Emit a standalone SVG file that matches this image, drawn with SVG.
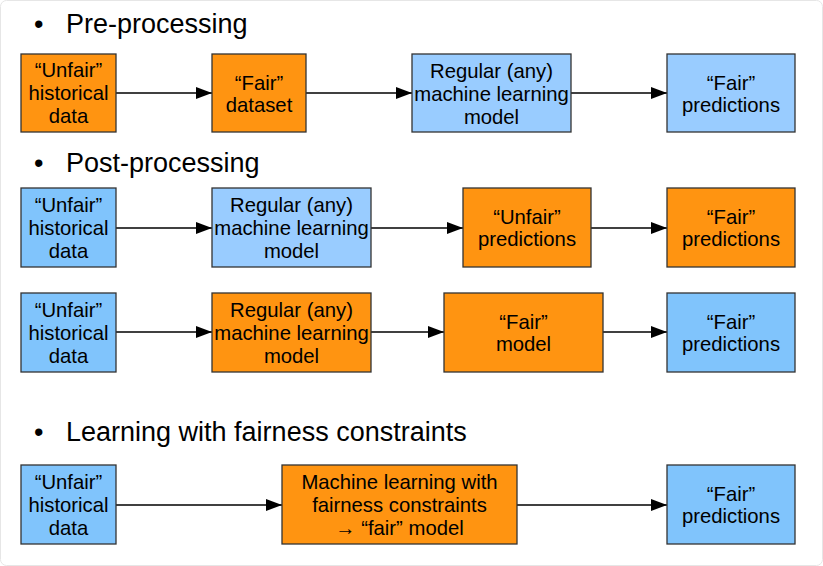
<svg xmlns="http://www.w3.org/2000/svg" width="823" height="566" viewBox="0 0 823 566">
<style>
.o{fill:#FF9411;stroke:#333;stroke-width:1.3}
.b{fill:#80C4FC;stroke:#333;stroke-width:1.3}
.l{fill:#99CCFF;stroke:#333;stroke-width:1.3}
text{font-family:"Liberation Sans",Arial,sans-serif;fill:#000}
.t{font-size:20.3px;text-anchor:middle}
.h{font-size:27px}
.c line{stroke:#000;stroke-width:1.5;marker-end:url(#ah)}
</style>
<defs>
<marker id="ah" markerWidth="16" markerHeight="12" refX="16" refY="6" orient="auto" markerUnits="userSpaceOnUse">
<path d="M0,0 L16,6 L0,12 Z" fill="#000"/>
</marker>
</defs>
<rect x="0.5" y="0.5" width="822" height="565" rx="6" fill="#fff" stroke="#e6e6e6"/>
<g id="headings">
<text class="h" x="34" y="33">•</text><text class="h" x="66" y="33">Pre-processing</text>
<text class="h" x="34" y="172">•</text><text class="h" x="66" y="172">Post-processing</text>
<text class="h" x="34" y="441">•</text><text class="h" x="66" y="441">Learning with fairness constraints</text>
</g>
<g class="c" id="connectors">
<line x1="116" y1="93" x2="212" y2="93"/>
<line x1="306" y1="93" x2="412" y2="93"/>
<line x1="571" y1="93" x2="667" y2="93"/>
<line x1="116" y1="228" x2="212" y2="228"/>
<line x1="371" y1="228" x2="463" y2="228"/>
<line x1="591" y1="228" x2="667" y2="228"/>
<line x1="116" y1="332" x2="212" y2="332"/>
<line x1="371" y1="332" x2="444" y2="332"/>
<line x1="603" y1="332" x2="667" y2="332"/>
<line x1="116" y1="505" x2="282" y2="505"/>
<line x1="517" y1="505" x2="667" y2="505"/>
</g>
<g id="r1a"><rect class="o" x="21" y="54" width="95" height="78"/><text class="t" x="68.5" y="77">“Unfair”</text><text class="t" x="68.5" y="100">historical</text><text class="t" x="68.5" y="122.5">data</text></g>
<g id="r1b"><rect class="o" x="212" y="54" width="94" height="78"/><text class="t" x="259" y="90">“Fair”</text><text class="t" x="259" y="112">dataset</text></g>
<g id="r1c"><rect class="l" x="412" y="54" width="159" height="78"/><text class="t" x="491.5" y="78">Regular (any)</text><text class="t" x="491.5" y="101">machine learning</text><text class="t" x="491.5" y="123.5">model</text></g>
<g id="r1d"><rect class="l" x="667" y="54" width="128" height="78"/><text class="t" x="731" y="90">“Fair”</text><text class="t" x="731" y="112">predictions</text></g>

<g id="r2a"><rect class="b" x="21" y="188" width="95" height="79"/><text class="t" x="68.5" y="212">“Unfair”</text><text class="t" x="68.5" y="235">historical</text><text class="t" x="68.5" y="257.5">data</text></g>
<g id="r2b"><rect class="l" x="212" y="188" width="159" height="79"/><text class="t" x="291.5" y="212">Regular (any)</text><text class="t" x="291.5" y="235">machine learning</text><text class="t" x="291.5" y="257.5">model</text></g>
<g id="r2c"><rect class="o" x="463" y="188" width="128" height="79"/><text class="t" x="527" y="224">“Unfair”</text><text class="t" x="527" y="246">predictions</text></g>
<g id="r2d"><rect class="o" x="667" y="188" width="128" height="79"/><text class="t" x="731" y="224">“Fair”</text><text class="t" x="731" y="246">predictions</text></g>

<g id="r3a"><rect class="b" x="21" y="293" width="95" height="79"/><text class="t" x="68.5" y="317">“Unfair”</text><text class="t" x="68.5" y="340">historical</text><text class="t" x="68.5" y="362.5">data</text></g>
<g id="r3b"><rect class="o" x="212" y="293" width="159" height="79"/><text class="t" x="291.5" y="317">Regular (any)</text><text class="t" x="291.5" y="340">machine learning</text><text class="t" x="291.5" y="362.5">model</text></g>
<g id="r3c"><rect class="o" x="444" y="293" width="159" height="79"/><text class="t" x="523.5" y="329">“Fair”</text><text class="t" x="523.5" y="351">model</text></g>
<g id="r3d"><rect class="b" x="667" y="293" width="128" height="79"/><text class="t" x="731" y="329">“Fair”</text><text class="t" x="731" y="351">predictions</text></g>

<g id="r4a"><rect class="b" x="21" y="465" width="95" height="79"/><text class="t" x="68.5" y="489">“Unfair”</text><text class="t" x="68.5" y="512">historical</text><text class="t" x="68.5" y="534.5">data</text></g>
<g id="r4b"><rect class="o" x="282" y="465" width="235" height="79"/><text class="t" x="399.5" y="489">Machine learning with</text><text class="t" x="399.5" y="512">fairness constraints</text><text class="t" x="399.5" y="534.5">→ “fair” model</text></g>
<g id="r4c"><rect class="b" x="667" y="465" width="128" height="79"/><text class="t" x="731" y="501">“Fair”</text><text class="t" x="731" y="523">predictions</text></g>
</svg>
